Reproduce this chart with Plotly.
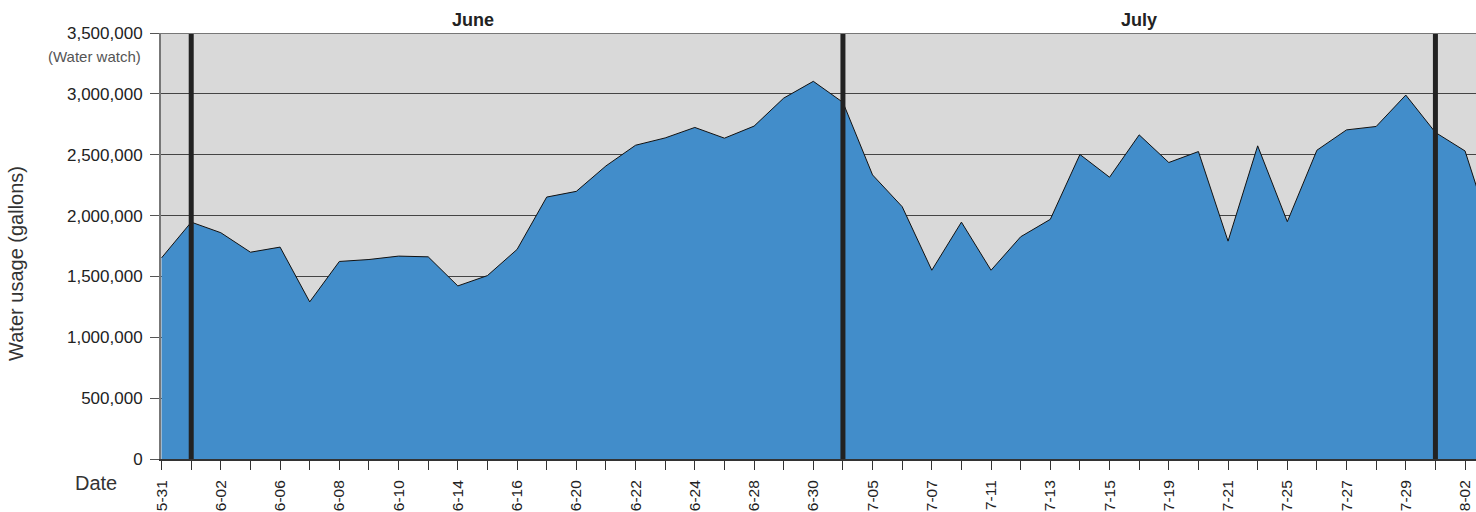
import plotly.graph_objects as go

# ---- data ----
tick_labels = ["5-31", "6-02", "6-06", "6-08", "6-10", "6-14", "6-16", "6-20", "6-22",
               "6-24", "6-28", "6-30", "7-05", "7-07", "7-11", "7-13", "7-15", "7-19",
               "7-21", "7-25", "7-27", "7-29", "8-02"]
usage = [1653000, 1946000, 1859000, 1699000, 1741000, 1291000, 1623000, 1639000,
         1667000, 1661000, 1422000, 1507000, 1722000, 2152000, 2199000, 2408000,
         2578000, 2638000, 2724000, 2636000, 2735000, 2965000, 3103000, 2930000,
         2334000, 2073000, 1551000, 1946000, 1551000, 1826000, 1969000, 2502000,
         2315000, 2663000, 2436000, 2526000, 1790000, 2573000, 1950000, 2537000,
         2704000, 2732000, 2990000, 2683000, 2531000, 1772000]
month_breaks = [1, 23, 43]
month_names = ["June", "July"]
month_label_pos = [10.5, 33.0]
y_ticks = [0, 500000, 1000000, 1500000, 2000000, 2500000, 3000000, 3500000]

FONT = "Liberation Sans, Arial, Helvetica, sans-serif"

x_idx = list(range(len(usage)))
n_ticks = 2 * len(tick_labels) - 1
tickvals = list(range(n_ticks))
ticktext = [tick_labels[i // 2] if i % 2 == 0 else "" for i in range(n_ticks)]

fig = go.Figure()
fig.add_trace(go.Scatter(
    x=x_idx, y=usage, mode="lines", fill="tozeroy",
    fillcolor="#428dca", line=dict(color="#111111", width=1),
    hoverinfo="skip", showlegend=False,
))

shapes = []
for b in month_breaks:
    shapes.append(dict(type="line", xref="x", yref="y", x0=b, x1=b, y0=0, y1=3500000,
                       line=dict(color="#222222", width=5), layer="above"))
shapes.append(dict(type="line", xref="paper", yref="y", x0=0, x1=1, y0=3500000, y1=3500000,
                   line=dict(color="#777777", width=2), layer="above"))

annotations = []
for name, pos in zip(month_names, month_label_pos):
    annotations.append(dict(x=pos, xref="x", y=1, yref="paper", yshift=13,
                            text="<b>%s</b>" % name, showarrow=False,
                            font=dict(family=FONT, size=18, color="#222222"),
                            xanchor="center", yanchor="middle"))
annotations.append(dict(x=0, xref="paper", xshift=-18, xanchor="right",
                        y=3500000, yref="y", yshift=-23, yanchor="middle",
                        text="(Water watch)", showarrow=False,
                        font=dict(family=FONT, size=15, color="#555555")))
annotations.append(dict(x=0, xref="paper", xshift=-145, xanchor="center",
                        y=0.458, yref="paper", yanchor="middle", textangle=-90,
                        text="Water usage (gallons)", showarrow=False,
                        font=dict(family=FONT, size=20, color="#333333")))
annotations.append(dict(x=0, xref="paper", xshift=-65, xanchor="center",
                        y=0, yref="paper", yshift=-24, yanchor="middle",
                        text="Date", showarrow=False,
                        font=dict(family=FONT, size=20, color="#333333")))

fig.update_layout(
    width=1476, height=512,
    margin=dict(l=161, r=0, t=33, b=53, autoexpand=False),
    paper_bgcolor="white", plot_bgcolor="#d9d9d9",
    shapes=shapes, annotations=annotations,
    xaxis=dict(range=[-0.02, 44.37], tickmode="array", tickvals=tickvals, ticktext=ticktext,
               tickangle=-90, ticks="outside", ticklen=9, tickcolor="#333333", tickwidth=1,
               showgrid=False, zeroline=False, showline=True, linecolor="#333333", linewidth=2,
               tickfont=dict(family=FONT, size=15.5, color="#222222"), ticklabelstandoff=4,
               automargin=False),
    yaxis=dict(range=[0, 3500000], tickmode="array", tickvals=y_ticks,
               ticktext=["{:,}".format(v) for v in y_ticks],
               ticks="outside", ticklen=9, tickcolor="#555555", tickwidth=1,
               showgrid=True, gridcolor="#444444", gridwidth=1, zeroline=False,
               showline=True, linecolor="#777777", linewidth=2,
               tickfont=dict(family=FONT, size=17, color="#222222"), ticklabelstandoff=4,
               automargin=False),
)

fig.write_html("out.html", config={"displayModeBar": False},
               post_script="document.body.style.margin='0';document.body.style.overflow='hidden';")
